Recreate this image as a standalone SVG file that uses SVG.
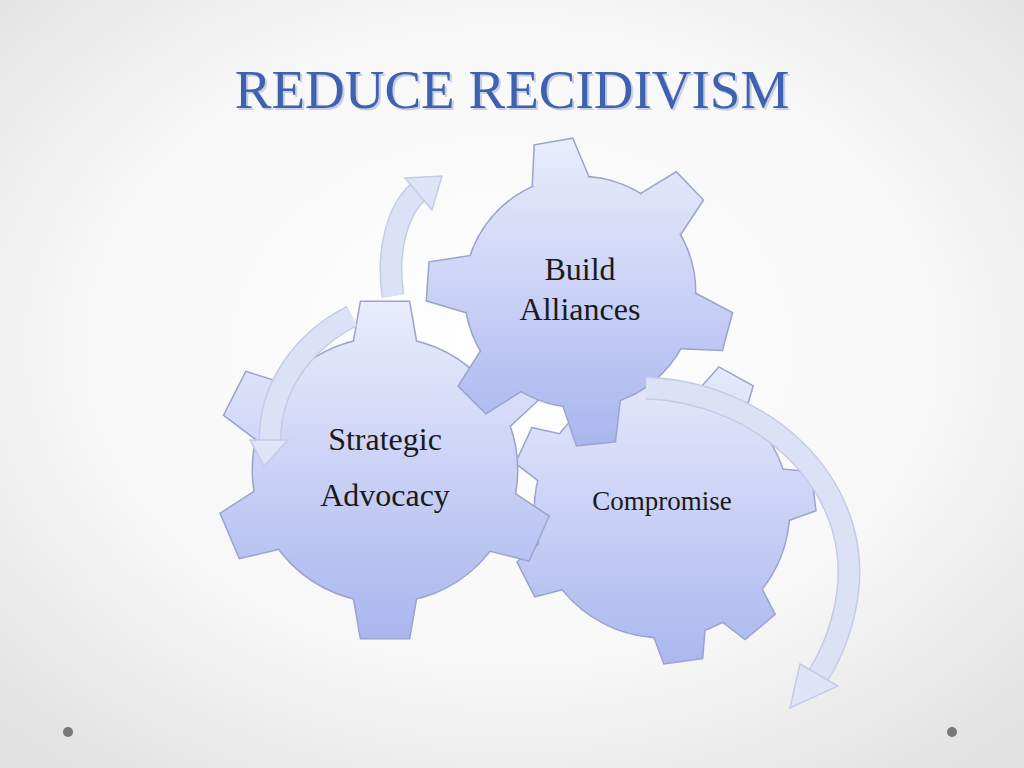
<svg xmlns="http://www.w3.org/2000/svg" width="1024" height="768" viewBox="0 0 1024 768">
<defs>
<radialGradient id="bg" cx="50%" cy="45%" r="70%"><stop offset="0" stop-color="#ffffff"/><stop offset="0.6" stop-color="#f7f7f7"/><stop offset="1" stop-color="#e2e2e2"/></radialGradient>
<linearGradient id="g1" gradientUnits="objectBoundingBox" x1="0" y1="0" x2="0" y2="1"><stop offset="0" stop-color="#eceefc"/><stop offset="1" stop-color="#a8b5ef"/></linearGradient>
<polygon id="tA" points="-28,-112 -19,-152 19,-152 28,-112"/>
<polygon id="tB" points="-32,-122 -24,-168 24,-168 32,-122"/>
<clipPath id="c3"><circle r="127"/><use href="#tA" transform="rotate(29)"/><use href="#tA" transform="rotate(83)"/><use href="#tA" transform="rotate(140)"/><use href="#tA" transform="rotate(172)"/><use href="#tA" transform="rotate(243)"/><use href="#tA" transform="rotate(295)"/></clipPath>
<clipPath id="c2"><circle r="132"/><use href="#tB"/><use href="#tB" transform="rotate(57)"/><use href="#tB" transform="rotate(114)"/><use href="#tB" transform="rotate(180)"/><use href="#tB" transform="rotate(247)"/><use href="#tB" transform="rotate(297)"/></clipPath>
<clipPath id="c1"><circle r="115"/><use href="#tA" transform="rotate(-10)"/><use href="#tA" transform="rotate(46)"/><use href="#tA" transform="rotate(105)"/><use href="#tA" transform="rotate(174)"/><use href="#tA" transform="rotate(225)"/><use href="#tA" transform="rotate(274)"/></clipPath>
<style>
.st{stroke:#9aa3c9;stroke-width:3;fill:#9aa3c9}
.tx{font-family:"Liberation Serif",serif;fill:#1a1a1a;text-anchor:middle}
.arr{fill:none;stroke:#dfe4f7;stroke-width:20;opacity:0.9}
.arro{fill:none;stroke:#c4cbe6;stroke-width:23}
.ah{fill:#dfe4f7;stroke:#c4cbe6;stroke-width:1.5}
</style>
</defs>
<rect width="1024" height="768" fill="url(#bg)"/>
<text x="514" y="110" font-family="Liberation Serif,serif" font-size="55" fill="#c8cfe0" text-anchor="middle">REDUCE RECIDIVISM</text>
<text x="512" y="108" font-family="Liberation Serif,serif" font-size="55" fill="#3f62b0" text-anchor="middle">REDUCE RECIDIVISM</text>
<circle cx="68" cy="732" r="5" fill="#777"/>
<circle cx="952" cy="732" r="5" fill="#777"/>

<g id="gear3" transform="translate(662,510)">
<g class="st"><circle r="127"/><use href="#tA" transform="rotate(29)"/><use href="#tA" transform="rotate(83)"/><use href="#tA" transform="rotate(140)"/><use href="#tA" transform="rotate(172)"/><use href="#tA" transform="rotate(243)"/><use href="#tA" transform="rotate(295)"/></g>
<rect x="-170" y="-170" width="340" height="340" fill="url(#g1)" clip-path="url(#c3)"/>
<text class="tx" x="0" y="0" font-size="27">Compromise</text>
</g>

<g id="gear2" transform="translate(385,470)">
<g class="st"><circle r="132"/><use href="#tB"/><use href="#tB" transform="rotate(57)"/><use href="#tB" transform="rotate(114)"/><use href="#tB" transform="rotate(180)"/><use href="#tB" transform="rotate(247)"/><use href="#tB" transform="rotate(297)"/></g>
<rect x="-175" y="-175" width="350" height="350" fill="url(#g1)" clip-path="url(#c2)"/>
<text class="tx" x="0" y="-20" font-size="32">Strategic</text>
<text class="tx" x="0" y="36" font-size="32">Advocacy</text>
</g>

<g id="gear1" transform="translate(580,292)">
<g class="st"><circle r="115"/><use href="#tA" transform="rotate(-10)"/><use href="#tA" transform="rotate(46)"/><use href="#tA" transform="rotate(105)"/><use href="#tA" transform="rotate(174)"/><use href="#tA" transform="rotate(225)"/><use href="#tA" transform="rotate(274)"/></g>
<rect x="-160" y="-160" width="320" height="320" fill="url(#g1)" clip-path="url(#c1)"/>
<text class="tx" x="0" y="-12" font-size="32">Build</text>
<text class="tx" x="0" y="28" font-size="32">Alliances</text>
</g>

<g id="connectors">
<path class="arro" d="M393,296 C386,250 398,210 418,192"/>
<path class="arr" d="M393,296 C386,250 398,210 418,192"/>
<polygon class="ah" points="405,178 442,176 432,210"/>
<path class="arro" d="M352,316 C305,340 270,385 270,440"/>
<path class="arr" d="M352,316 C305,340 270,385 270,440"/>
<polygon class="ah" points="250,440 288,440 264,466"/>
<path class="arro" d="M646,388 C760,392 860,480 848,590 C843,630 828,660 818,676"/>
<path class="arr" d="M646,388 C760,392 860,480 848,590 C843,630 828,660 818,676"/>
<polygon class="ah" points="800,664 838,686 790,708"/>
</g>
</svg>
